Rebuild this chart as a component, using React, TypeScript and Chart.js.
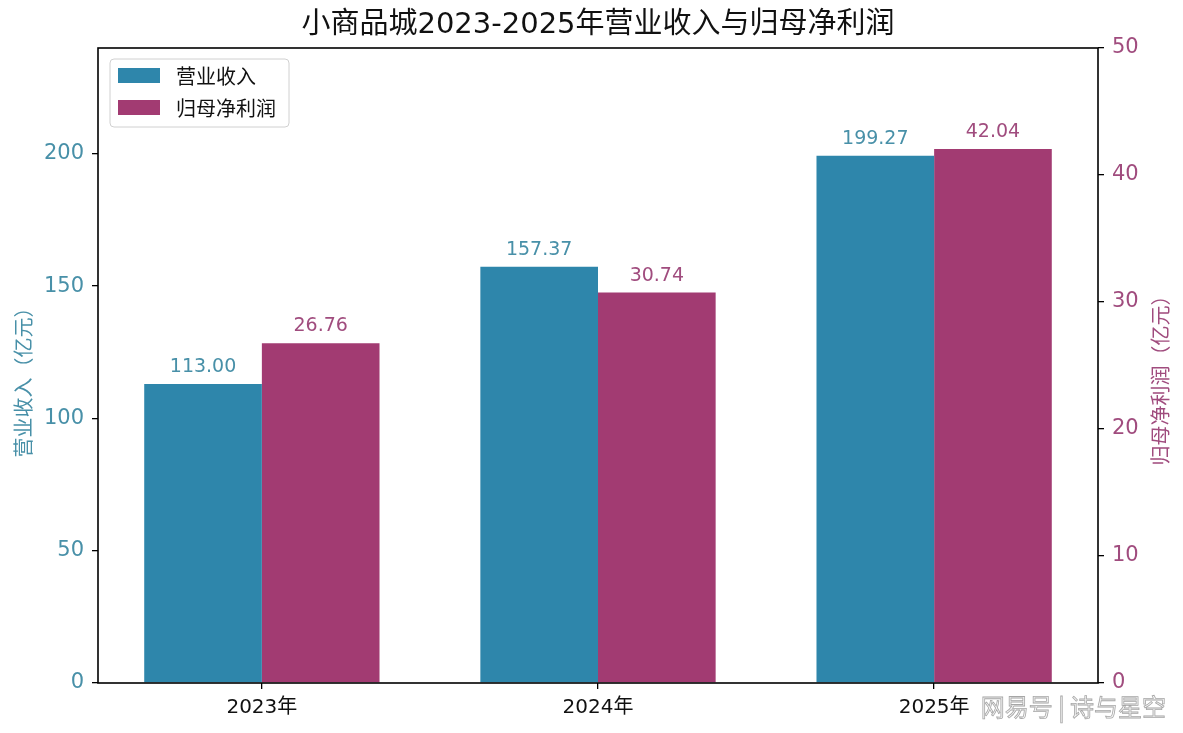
import { useEffect, useRef } from 'react';
import { Chart, registerables } from 'chart.js';

Chart.register(...registerables);

const years = ['2023年', '2024年', '2025年'];
const revenue = [113.0, 157.37, 199.27];
const netProfit = [26.76, 30.74, 42.04];
const revenueTickMax = 200;

const BLUE = '#2E86AB';
const MAGENTA = '#A23B72';
const BLUE_TEXT = '#4890a8';
const MAGENTA_TEXT = '#a04c7e';
const FONT = '"DejaVu Sans", "Noto Sans CJK SC", sans-serif';
const CJK = '"Noto Sans CJK SC", sans-serif';

const overlay = {
  id: 'overlay',
  afterDatasetsDraw(chart: any) {
    const ctx = chart.ctx;
    ctx.save();
    ctx.font = `19px ${FONT}`;
    ctx.textAlign = 'center';
    ctx.textBaseline = 'alphabetic';
    chart.data.datasets.forEach((ds: any, i: number) => {
      const meta = chart.getDatasetMeta(i);
      ctx.fillStyle = i === 0 ? BLUE_TEXT : MAGENTA_TEXT;
      meta.data.forEach((bar: any, j: number) => {
        ctx.fillText(Number(ds.data[j].y).toFixed(2), bar.x, bar.y - 12);
      });
    });
    ctx.restore();
  },
  afterDraw(chart: any) {
    const ctx = chart.ctx;
    const { left, right, top, bottom } = chart.chartArea;
    const midY = (top + bottom) / 2;
    ctx.save();

    // frame
    ctx.strokeStyle = '#000';
    ctx.lineWidth = 1.6;
    ctx.strokeRect(left, top, right - left, bottom - top);

    // title
    ctx.fillStyle = '#111';
    ctx.font = `29px ${FONT}`;
    ctx.textAlign = 'center';
    ctx.textBaseline = 'middle';
    ctx.fillText('小商品城2023-2025年营业收入与归母净利润', (left + right) / 2, 25);

    // axis titles
    ctx.font = `20px ${CJK}`;
    ctx.save();
    ctx.translate(23, midY + 12);
    ctx.rotate(-Math.PI / 2);
    ctx.fillStyle = BLUE_TEXT;
    ctx.fillText('营业收入（亿元）', 0, 0);
    ctx.restore();
    ctx.save();
    ctx.translate(1160, midY + 10);
    ctx.rotate(-Math.PI / 2);
    ctx.fillStyle = MAGENTA_TEXT;
    ctx.fillText('归母净利润（亿元）', 0, 0);
    ctx.restore();

    // legend
    const lx = left + 12;
    const ly = top + 11;
    ctx.beginPath();
    ctx.roundRect(lx, ly, 179, 68, 4);
    ctx.fillStyle = 'rgba(255,255,255,0.85)';
    ctx.fill();
    ctx.strokeStyle = '#d0d0d0';
    ctx.lineWidth = 1;
    ctx.stroke();
    const items = [
      { label: '营业收入', color: BLUE },
      { label: '归母净利润', color: MAGENTA },
    ];
    ctx.font = `20px ${CJK}`;
    ctx.textAlign = 'left';
    items.forEach((it, k) => {
      const y = ly + 9 + k * 32;
      ctx.fillStyle = it.color;
      ctx.fillRect(lx + 8, y, 42, 15);
      ctx.fillStyle = '#111';
      ctx.fillText(it.label, lx + 66, y + 8);
    });

    // watermark
    ctx.font = `24px ${CJK}`;
    ctx.textAlign = 'right';
    ctx.lineWidth = 0.8;
    ctx.fillStyle = 'rgba(245,245,245,0.95)';
    ctx.fillText('网易号 | 诗与星空', 1166, 707);
    ctx.strokeStyle = 'rgba(130,130,130,0.7)';
    ctx.strokeText('网易号 | 诗与星空', 1166, 707);

    ctx.restore();
  },
};

export default function App() {
  const ref = useRef<HTMLCanvasElement | null>(null);

  useEffect(() => {
    if (!ref.current) return;
    const chart = new Chart(ref.current, {
      type: 'bar',
      data: {
        datasets: [
          {
            label: '营业收入',
            data: revenue.map((v, i) => ({ x: i, y: v })),
            backgroundColor: BLUE,
            yAxisID: 'y',
            categoryPercentage: 0.7,
            barPercentage: 1,
          },
          {
            label: '归母净利润',
            data: netProfit.map((v, i) => ({ x: i, y: v })),
            backgroundColor: MAGENTA,
            yAxisID: 'y1',
            categoryPercentage: 0.7,
            barPercentage: 1,
          },
        ],
      },
      options: {
        responsive: true,
        maintainAspectRatio: false,
        animation: false,
        layout: { padding: { top: 48, left: 0, right: 0, bottom: 0 } },
        plugins: {
          legend: { display: false },
          tooltip: { enabled: false },
        },
        scales: {
          x: {
            type: 'linear',
            min: -0.4875,
            max: 2.4875,
            offset: false,
            grid: { offset: false, drawOnChartArea: false, drawTicks: true, tickLength: 6, color: '#000', lineWidth: 1.3 },
            border: { display: false },
            ticks: {
              color: '#111',
              font: { family: FONT, size: 20 },
              padding: 7,
              callback: (v: any) => years[v] ?? '',
            },
            afterBuildTicks: (s: any) => { s.ticks = years.map((_, i) => ({ value: i })); },
            afterFit: (s: any) => { s.height = 50; },
          },
          y: {
            position: 'left',
            min: 0,
            max: 240,
            grid: { drawOnChartArea: false, drawTicks: true, tickLength: 6, color: '#000', lineWidth: 1.3 },
            border: { display: false },
            ticks: { stepSize: 50, color: BLUE_TEXT, font: { family: FONT, size: 21 }, padding: 8 },
            afterBuildTicks: (s: any) => { s.ticks = s.ticks.filter((t: any) => t.value <= revenueTickMax); },
            afterFit: (s: any) => { s.width = 98; },
          },
          y1: {
            position: 'right',
            min: 0,
            max: 50,
            grid: { drawOnChartArea: false, drawTicks: true, tickLength: 6, color: '#000', lineWidth: 1.3 },
            border: { display: false },
            ticks: { stepSize: 10, color: MAGENTA_TEXT, font: { family: FONT, size: 21 }, padding: 8 },
            afterFit: (s: any) => { s.width = 85; },
          },
        },
      },
      plugins: [overlay],
    });
    return () => chart.destroy();
  }, []);

  return (
    <div style={{ position: 'fixed', left: 0, top: 0, width: 1183, height: 733, background: '#fff' }}>
      <canvas ref={ref} aria-label="小商品城2023-2025年营业收入与归母净利润" />
    </div>
  );
}
